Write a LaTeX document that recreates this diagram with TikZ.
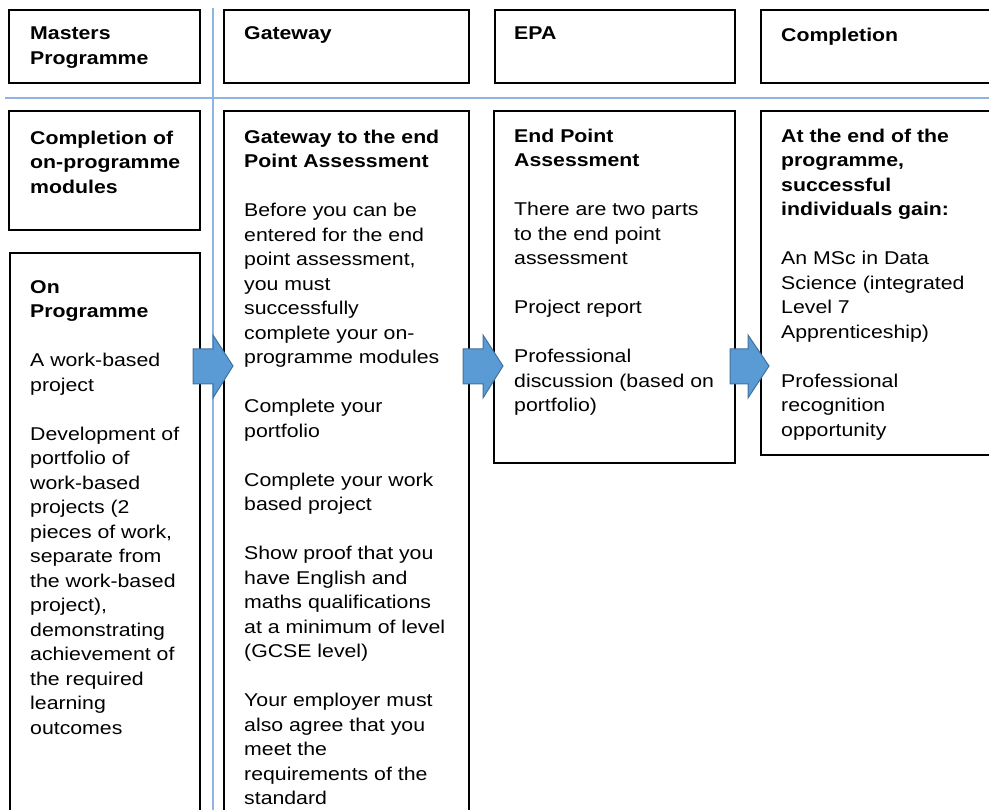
\documentclass[tikz,border=0pt]{standalone}
\usepackage{fontspec}
\setmainfont{Liberation Sans}[FakeStretch=1.15]
\definecolor{guide}{HTML}{8DB4E2}
\definecolor{arrowfill}{HTML}{5B9BD5}
\definecolor{arrowdraw}{HTML}{41719C}
\begin{document}
\begin{tikzpicture}[x=1pt,y=-1pt,
  box/.style={draw=black,line width=1.3pt},
  guideline/.style={draw=guide,line width=1.3pt},
  blockarrow/.style={fill=arrowfill,draw=arrowdraw,line width=1pt,line join=miter},
  txt/.style={anchor=north west,inner sep=0pt,align=left,font=\fontsize{18.5}{24.5}\selectfont}]
\useasboundingbox (0,0) rectangle (989,810);
\begin{scope}
\clip (0,0) rectangle (989,810);
% guide lines
\draw[guideline] (5,98) -- (995,98);
\draw[guideline] (213,8) -- (213,815);
% header boxes
\draw[box] (9,10) rectangle (200,83);
\draw[box] (224,10) rectangle (469,83);
\draw[box] (495,10) rectangle (735,83);
\draw[box] (761,10) rectangle (1000,83);
% content boxes
\draw[box] (9,111) rectangle (200,230);
\draw[box] (10,253) rectangle (200,820);
\draw[box] (224,111) rectangle (469,820);
\draw[box] (494,111) rectangle (735,463);
\draw[box] (761,111) rectangle (1000,455);
\end{scope}
% header texts
\node[txt] (h1) at (30,39.5-17.2) {\strut\textbf{Masters}\\\textbf{Programme}};
\node[txt] (h2) at (244,39.5-17.2) {\strut\textbf{Gateway}};
\node[txt] (h3) at (514,39.5-17.2) {\strut\textbf{EPA}};
\node[txt] (h4) at (781,41-17.2) {\strut\textbf{Completion}};
% column 1
\node[txt] (c1) at (30,144-17.2) {\strut\textbf{Completion of}\\\textbf{on-programme}\\\textbf{modules}};
\node[txt] (c2) at (30,293-17.2) {\strut\textbf{On}\\\textbf{Programme}\\[24.5pt]
A work-based\\project\\[24.5pt]
Development of\\portfolio of\\work-based\\projects (2\\pieces of work,\\separate from\\the work-based\\project),\\demonstrating\\achievement of\\the required\\learning\\outcomes};
% column 2
\node[txt] (g) at (244,143-17.2) {\strut\textbf{Gateway to the end}\\\textbf{Point Assessment}\\[24.5pt]
Before you can be\\entered for the end\\point assessment,\\you must\\successfully\\complete your on-\\programme modules\\[24.5pt]
Complete your\\portfolio\\[24.5pt]
Complete your work\\based project\\[24.5pt]
Show proof that you\\have English and\\maths qualifications\\at a minimum of level\\(GCSE level)\\[24.5pt]
Your employer must\\also agree that you\\meet the\\requirements of the\\standard};
% column 3
\node[txt] (e) at (514,142-17.2) {\strut\textbf{End Point}\\\textbf{Assessment}\\[24.5pt]
There are two parts\\to the end point\\assessment\\[24.5pt]
Project report\\[24.5pt]
Professional\\discussion (based on\\portfolio)};
% column 4
\node[txt] (f) at (781,142-17.2) {\strut\textbf{At the end of the}\\\textbf{programme,}\\\textbf{successful}\\\textbf{individuals gain:}\\[24.5pt]
An MSc in Data\\Science (integrated\\Level 7\\Apprenticeship)\\[24.5pt]
Professional\\recognition\\opportunity};
% block arrows
\foreach \n/\a/\b/\t in {a1/193/213/233, a2/463/483/503, a3/730/748/769}{
  \draw[blockarrow] (\a,349) -- (\b,349) -- (\b,335) -- (\t,366) -- (\b,398) -- (\b,384) -- (\a,384) -- cycle;
}
\end{tikzpicture}
\end{document}
